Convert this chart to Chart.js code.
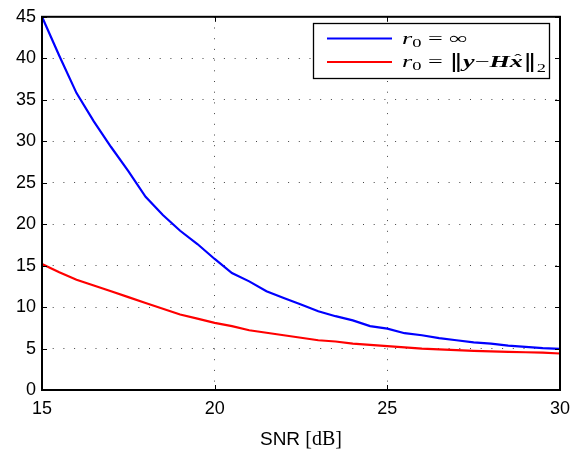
<!DOCTYPE html>
<html>
<head>
<meta charset="utf-8">
<script src="https://cdn.jsdelivr.net/npm/chart.js@4.4.0/dist/chart.umd.min.js"></script>
<style>
  html, body { margin: 0; padding: 0; background: #fff; }
  #wrap { width: 584px; height: 453px; }
</style>
</head>
<body>
<div id="wrap"><canvas id="snrCanvas"></canvas></div>
<script>
// values (SNR step 0.5 dB)
const snrValues = [15, 15.5, 16, 16.5, 17, 17.5, 18, 18.5, 19, 19.5, 20, 20.5, 21, 21.5, 22, 22.5,
    23, 23.5, 24, 24.5, 25, 25.5, 26, 26.5, 27, 27.5, 28, 28.5, 29, 29.5, 30];
const radiusInf = [45, 40.3, 35.8, 32.4, 29.3, 26.4, 23.3, 21.1, 19.2, 17.6, 15.8, 14.1, 13.1, 11.9, 11.1, 10.3,
    9.5, 8.9, 8.4, 7.7, 7.4, 6.85, 6.6, 6.25, 6.0, 5.75, 5.6, 5.35, 5.2, 5.05, 4.95];
const radiusRes = [15.2, 14.2, 13.3, 12.6, 11.9, 11.2, 10.5, 9.8, 9.1, 8.6, 8.1, 7.7, 7.2, 6.9, 6.6, 6.3,
    6.0, 5.85, 5.6, 5.45, 5.3, 5.15, 5.0, 4.9, 4.8, 4.72, 4.65, 4.6, 4.55, 4.5, 4.4];
const xTicks = [15, 20, 25, 30];
const yTicks = [0, 5, 10, 15, 20, 25, 30, 35, 40, 45];

const serif = '"Liberation Serif", "DejaVu Serif", serif';
const sans = '"Liberation Sans", Arial, sans-serif';

// legend text pieces (latex look-alike), drawn stretched to the widths in the figure
const legendTexts = [
    [{t: 'r', f: 'italic 17px ' + serif}, {t: '0', f: '12px ' + serif, dy: 3},
     {t: ' = ', f: '17px ' + serif}, {t: '\u221E', f: '17px ' + serif}],
    [{t: 'r', f: 'italic 17px ' + serif}, {t: '0', f: '12px ' + serif, dy: 3},
     {t: ' = ', f: '17px ' + serif}, {t: '\u2016', f: '18px "DejaVu Serif", serif'},
     {t: 'y', f: 'italic bold 17px ' + serif}, {t: '\u2212', f: '17px ' + serif},
     {t: 'H', f: 'italic bold 17px ' + serif}, {t: 'x', f: 'italic bold 17px ' + serif, hat: true},
     {t: '\u2016', f: '18px "DejaVu Serif", serif'}, {t: '2', f: '12px ' + serif, dy: 5}]
];
const legendWidths = [66, 144];

function toPoints(ys) {
    return snrValues.map((x, i) => ({x: x, y: ys[i]}));
}

function piecesWidth(ctx, pieces) {
    let w = 0;
    pieces.forEach(p => { ctx.font = p.f; w += ctx.measureText(p.t).width; });
    return w;
}

function drawPieces(ctx, pieces, x, y, width) {
    const sx = width / piecesWidth(ctx, pieces);
    ctx.save();
    ctx.translate(x, y);
    ctx.scale(sx, 1);
    let cx = 0;
    pieces.forEach(p => {
        ctx.font = p.f;
        ctx.fillText(p.t, cx, p.dy || 0);
        const w = ctx.measureText(p.t).width;
        if (p.hat) {
            ctx.font = '14px ' + serif;
            const hw = ctx.measureText('\u02C6').width;
            ctx.fillText('\u02C6', cx + (w - hw) / 2 + 1, -3);
        }
        cx += w;
    });
    ctx.restore();
}

// frame, inner ticks, legend and x title
const extrasPlugin = {
    id: 'extras',
    afterDraw(chart) {
        const ctx = chart.ctx;
        const a = chart.chartArea;
        const xs = chart.scales.x, ys = chart.scales.y;
        ctx.save();
        ctx.strokeStyle = '#000';
        ctx.lineWidth = 1;
        xTicks.forEach(v => {
            const px = Math.round(xs.getPixelForValue(v)) + 0.5;
            ctx.beginPath();
            ctx.moveTo(px, a.bottom); ctx.lineTo(px, a.bottom - 5);
            ctx.moveTo(px, a.top); ctx.lineTo(px, a.top + 5);
            ctx.stroke();
        });
        yTicks.forEach(v => {
            const py = Math.round(ys.getPixelForValue(v)) + 0.5;
            ctx.beginPath();
            ctx.moveTo(a.left, py); ctx.lineTo(a.left + 5, py);
            ctx.moveTo(a.right, py); ctx.lineTo(a.right - 5, py);
            ctx.stroke();
        });
        ctx.lineWidth = 2;
        ctx.strokeRect(a.left, a.top, a.right - a.left, a.bottom - a.top);

        // legend box
        const bx = 313, by = 23, bw = 236, bh = 55;
        ctx.fillStyle = '#fff';
        ctx.fillRect(bx, by, bw, bh);
        ctx.lineWidth = 1.3;
        ctx.strokeRect(bx + 0.5, by + 0.5, bw, bh);
        chart.data.datasets.forEach((ds, i) => {
            const ly = 38.5 + i * 23.5;
            ctx.strokeStyle = ds.borderColor;
            ctx.lineWidth = 2.2;
            ctx.beginPath();
            ctx.moveTo(327, ly); ctx.lineTo(392, ly);
            ctx.stroke();
            ctx.fillStyle = '#000';
            ctx.textBaseline = 'alphabetic';
            drawPieces(ctx, legendTexts[i], 402, ly + 5, legendWidths[i]);
        });

        // x axis title: "SNR" sans, "[dB]" serif
        ctx.fillStyle = '#000';
        ctx.textBaseline = 'alphabetic';
        ctx.font = '19px ' + sans;
        const w1 = ctx.measureText('SNR ').width;
        ctx.font = '20px ' + serif;
        const w2 = ctx.measureText('[dB]').width;
        let tx = (a.left + a.right) / 2 - (w1 + w2) / 2;
        ctx.font = '19px ' + sans;
        ctx.fillText('SNR ', tx, 445);
        ctx.font = '20px ' + serif;
        ctx.fillText('[dB]', tx + w1, 445);
        ctx.restore();
    }
};

const dotted = {
    color: '#444',
    lineWidth: 1,
    drawTicks: false
};

const ctx = document.getElementById('snrCanvas').getContext('2d');
new Chart(ctx, {
    type: 'line',
    data: {
        datasets: [{
            label: 'r0 = inf',
            data: toPoints(radiusInf),
            borderColor: '#0000ff',
            borderWidth: 2.2,
            pointRadius: 0,
            tension: 0
        }, {
            label: 'r0 = ||y-Hx||2',
            data: toPoints(radiusRes),
            borderColor: '#ff0000',
            borderWidth: 2.2,
            pointRadius: 0,
            tension: 0
        }]
    },
    options: {
        responsive: true,
        maintainAspectRatio: false,
        animation: false,
        layout: { padding: { top: 11, right: 24, left: 0, bottom: 0 } },
        plugins: {
            legend: { display: false },
            tooltip: { enabled: false }
        },
        scales: {
            x: {
                type: 'linear',
                min: 15,
                max: 30,
                afterBuildTicks: s => { s.ticks = xTicks.map(v => ({value: v})); },
                grid: dotted,
                border: { display: false, dash: [1, 9.7] },
                ticks: { color: '#000', font: { family: sans, size: 18 }, padding: 8, maxRotation: 0 },
                afterFit: s => { s.height = 63; }
            },
            y: {
                min: 0,
                max: 45,
                afterBuildTicks: s => { s.ticks = yTicks.map(v => ({value: v})); },
                grid: dotted,
                border: { display: false, dash: [1, 9.7] },
                ticks: { color: '#000', font: { family: sans, size: 18 }, padding: 6 },
                afterFit: s => { s.width = 42; }
            }
        }
    },
    plugins: [extrasPlugin]
});
</script>
</body>
</html>
